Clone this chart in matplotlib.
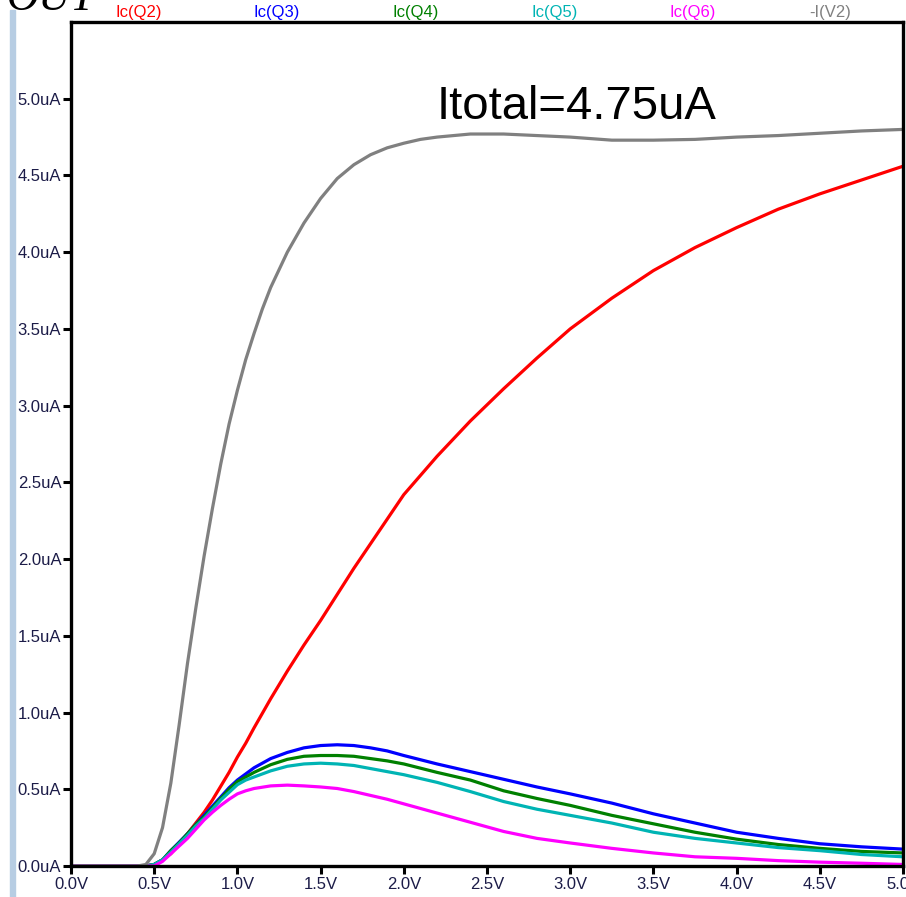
import matplotlib
matplotlib.use("Agg")
import matplotlib.pyplot as plt
from matplotlib.patches import Rectangle
import numpy as np

# sweep voltage (V) and currents (uA)
vsweep = [0, 0.4, 0.45, 0.5, 0.55, 0.6, 0.65, 0.7, 0.75, 0.8, 0.85, 0.9, 0.95,
          1.0, 1.05, 1.1, 1.2, 1.3, 1.4, 1.5, 1.6, 1.7, 1.8, 1.9, 2.0, 2.2,
          2.4, 2.6, 2.8, 3.0, 3.25, 3.5, 3.75, 4.0, 4.25, 4.5, 4.75, 5.0]

ic_q2 = [0, 0, 0, 0.01, 0.04, 0.08, 0.14, 0.21, 0.28, 0.35, 0.43, 0.52, 0.61,
         0.71, 0.80, 0.90, 1.09, 1.27, 1.44, 1.60, 1.77, 1.94, 2.10, 2.26, 2.42,
         2.67, 2.90, 3.11, 3.31, 3.50, 3.70, 3.88, 4.03, 4.16, 4.28, 4.38, 4.47, 4.56]
ic_q3 = [0, 0, 0, 0.01, 0.04, 0.10, 0.155, 0.21, 0.27, 0.33, 0.39, 0.45, 0.51,
         0.56, 0.60, 0.64, 0.70, 0.74, 0.77, 0.785, 0.79, 0.785, 0.77, 0.75, 0.72,
         0.665, 0.615, 0.565, 0.515, 0.47, 0.41, 0.34, 0.28, 0.22, 0.18, 0.145, 0.125, 0.11]
ic_q4 = [0, 0, 0, 0.01, 0.04, 0.10, 0.15, 0.21, 0.27, 0.32, 0.38, 0.44, 0.50,
         0.55, 0.58, 0.61, 0.66, 0.695, 0.715, 0.72, 0.72, 0.715, 0.70, 0.685, 0.665,
         0.61, 0.56, 0.49, 0.44, 0.395, 0.33, 0.275, 0.22, 0.175, 0.14, 0.115, 0.095, 0.085]
ic_q5 = [0, 0, 0, 0.01, 0.04, 0.09, 0.145, 0.20, 0.26, 0.31, 0.37, 0.43, 0.48,
         0.53, 0.56, 0.58, 0.62, 0.65, 0.665, 0.67, 0.665, 0.655, 0.635, 0.615, 0.595,
         0.545, 0.485, 0.42, 0.37, 0.33, 0.28, 0.22, 0.18, 0.15, 0.12, 0.10, 0.075, 0.06]
ic_q6 = [0, 0, 0, 0.0, 0.03, 0.08, 0.13, 0.18, 0.24, 0.30, 0.35, 0.395, 0.435,
         0.47, 0.49, 0.505, 0.522, 0.527, 0.522, 0.515, 0.505, 0.485, 0.46, 0.435, 0.405,
         0.345, 0.285, 0.225, 0.18, 0.15, 0.115, 0.085, 0.06, 0.05, 0.035, 0.025, 0.018, 0.01]

# total current, read on a finer voltage grid around the knee
v_tot = [0, 0.4, 0.45, 0.5, 0.55, 0.6, 0.65, 0.7, 0.75, 0.8, 0.85, 0.9, 0.95,
         1.0, 1.05, 1.1, 1.15, 1.2, 1.3, 1.4, 1.5, 1.6, 1.7, 1.8, 1.9, 2.0,
         2.1, 2.2, 2.4, 2.6, 2.8, 3.0, 3.25, 3.5, 3.75, 4.0, 4.25, 4.5, 4.75, 5.0]
i_v2 = [0, 0, 0.01, 0.08, 0.25, 0.54, 0.92, 1.32, 1.68, 2.02, 2.33, 2.62, 2.88,
        3.10, 3.30, 3.47, 3.63, 3.77, 4.00, 4.19, 4.35, 4.48, 4.57, 4.635, 4.68, 4.71,
        4.735, 4.75, 4.77, 4.77, 4.76, 4.75, 4.73, 4.73, 4.735, 4.75, 4.76, 4.775, 4.79, 4.80]

trace_names = ["Ic(Q2)", "Ic(Q3)", "Ic(Q4)", "Ic(Q5)", "Ic(Q6)", "-I(V2)"]
trace_colors = ["#ff0000", "#0000ff", "#008000", "#00b4b4", "#ff00ff", "#808080"]
trace_x = [vsweep, vsweep, vsweep, vsweep, vsweep, v_tot]
trace_y = [ic_q2, ic_q3, ic_q4, ic_q5, ic_q6, i_v2]

xticks = np.arange(0, 5.01, 0.5)
yticks = np.arange(0, 5.01, 0.5)

W, H = 906, 897
fig = plt.figure(figsize=(W / 100, H / 100), dpi=100)
fig.patch.set_facecolor("white")

ax = fig.add_axes([71 / W, 1 - 866 / H, (903 - 71) / W, (866 - 22) / H])

for x, y, c in zip(trace_x, trace_y, trace_colors):
    ax.plot(x, y, color=c, lw=2.3, solid_joinstyle="round")

ax.set_xlim(0, 5.0)
ax.set_ylim(0, 5.5)
ax.set_xticks(xticks)
ax.set_xticklabels([f"{v:.1f}V" for v in xticks])
ax.set_yticks(yticks)
ax.set_yticklabels([f"{v:.1f}uA" for v in yticks])
ax.tick_params(direction="out", length=6, width=2.2, color="black",
               labelsize=12, labelcolor="#1c1c48", pad=1)
ax.tick_params(axis="x", pad=2)
for lab in ax.get_xticklabels() + ax.get_yticklabels():
    lab.set_family(["Liberation Sans", "DejaVu Sans"])
for s in ax.spines.values():
    s.set_linewidth(2.4)
    s.set_color("black")

ax.text(2.2, 4.87, "Itotal=4.75uA", fontsize=34, va="baseline",
        family=["Liberation Sans", "DejaVu Sans"])

# trace names along the top (cut off in the screenshot)
label_x = [139, 277, 416, 555, 693, 830]
for name, c, px in zip(trace_names, trace_colors, label_x):
    fig.text(px / W, 1 - 17 / H, name, color=c, fontsize=12, ha="center",
             va="baseline", family=["Liberation Sans", "DejaVu Sans"])

# schematic net name, mostly cut off above the frame
fig.text(7 / W, 1 - 10 / H, "OUT", fontsize=32, style="italic",
         va="baseline", family=["Liberation Serif", "DejaVu Serif"])

# window border strip on the left
fig.patches.append(Rectangle((10 / W, 0), 5 / W, (H - 10) / H,
                             transform=fig.transFigure, color="#b7cde3"))

fig.savefig("out.png", dpi=100)
